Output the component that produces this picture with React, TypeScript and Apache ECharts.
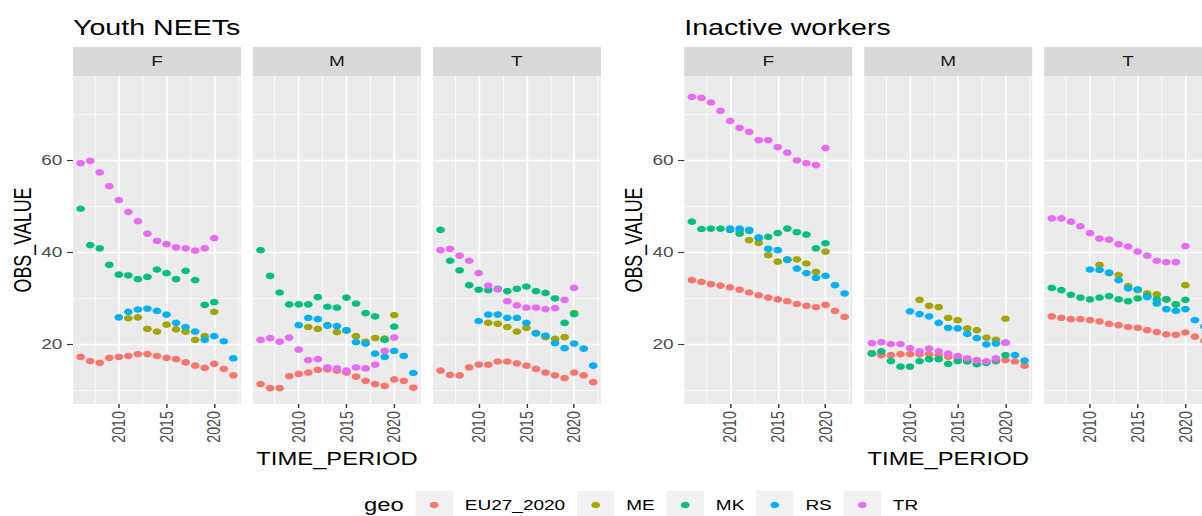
import React, { useEffect, useRef } from 'react';
import * as echarts from 'echarts';

// ---------- data ----------
const years = [2006, 2007, 2008, 2009, 2010, 2011, 2012, 2013, 2014, 2015, 2016, 2017, 2018, 2019, 2020, 2021, 2022];
const geos = ['EU27_2020', 'ME', 'MK', 'RS', 'TR'];
const geoColors = ['#F8766D', '#A3A500', '#00BF7D', '#00B0F6', '#E76BF3'];
const facets = ['F', 'M', 'T'];
const plotTitles = ['Youth NEETs', 'Inactive workers'];
const xMajorTicks = [2010, 2015, 2020];
const xMinorTicks = [2007.5, 2012.5, 2017.5, 2022.5];
const yMajorTicks = [20, 40, 60];
const yMinorTicks = [10, 30, 50, 70];

// Youth NEETs
const neetF_EU = [17.2, 16.3, 15.9, 17.0, 17.2, 17.4, 17.8, 17.8, 17.4, 17.0, 16.7, 16.0, 15.3, 14.8, 15.7, 14.6, 13.2];
const neetF_ME = [null, null, null, null, null, 25.6, 25.8, 23.3, 22.7, 24.2, 23.2, 22.7, 20.9, 21.7, 27.0, null, null];
const neetF_MK = [49.4, 41.5, 40.8, 37.2, 35.1, 34.9, 34.1, 34.6, 36.2, 35.4, 34.1, 35.9, 33.9, 28.5, 29.1, null, null];
const neetF_RS = [null, null, null, null, 25.8, 27.0, 27.5, 27.7, 27.2, 26.4, 24.6, 23.7, 22.7, 20.9, 21.7, 20.6, 16.9];
const neetF_TR = [59.3, 59.8, 57.3, 54.3, 51.3, 48.7, 46.7, 44.0, 42.4, 41.7, 41.0, 40.8, 40.3, 40.8, 43.0, null, null];

const neetM_EU = [11.3, 10.4, 10.4, 13.0, 13.5, 13.8, 14.4, 14.5, 14.2, 13.8, 12.9, 12.0, 11.3, 10.9, 12.3, 12.0, 10.5];
const neetM_ME = [null, null, null, null, null, 23.7, 23.3, 24.1, 22.6, 22.9, 21.7, 20.5, 21.3, 21.2, 26.3, null, null];
const neetM_MK = [40.4, 34.8, 31.2, 28.6, 28.6, 28.6, 30.2, 28.1, 27.9, 30.1, 28.8, 26.7, 26.0, 20.9, 23.8, null, null];
const neetM_RS = [null, null, null, null, 24.1, 25.7, 25.4, 24.0, 23.9, 23.0, 20.4, 20.1, 17.9, 17.2, 18.5, 17.4, 13.7];
const neetM_TR = [20.9, 21.3, 20.5, 21.4, 18.8, 16.5, 16.7, 14.9, 14.7, 14.2, 14.9, 14.7, 15.5, 18.5, 21.4, null, null];

const neetT_EU = [14.2, 13.3, 13.2, 14.9, 15.5, 15.5, 16.2, 16.2, 15.8, 15.3, 14.6, 13.8, 13.2, 12.6, 13.8, 13.2, 11.7];
const neetT_ME = [null, null, null, null, null, 24.6, 24.4, 23.7, 22.7, 23.5, 22.4, 21.5, 21.1, 21.5, 26.7, null, null];
const neetT_MK = [44.8, 38.1, 36.0, 32.8, 31.8, 31.7, 32.0, 31.5, 32.0, 32.5, 31.5, 31.1, 29.9, 24.6, 26.5, null, null];
const neetT_RS = [null, null, null, null, 25.0, 26.4, 26.4, 25.7, 25.7, 24.6, 22.3, 21.8, 20.2, 19.1, 20.1, 19.0, 15.3];
const neetT_TR = [40.4, 40.7, 39.2, 38.1, 35.4, 32.7, 31.9, 29.3, 28.4, 27.9, 27.9, 27.6, 27.8, 29.6, 32.2, null, null];

// Inactive workers
const inactF_EU = [33.9, 33.5, 33.0, 32.7, 32.3, 31.8, 31.2, 30.6, 30.1, 29.7, 29.3, 28.7, 28.3, 28.0, 28.5, 27.2, 25.9];
const inactF_ME = [null, null, null, null, null, 44.6, 42.6, 42.0, 39.3, 37.9, 38.4, 38.4, 37.5, 35.7, 40.1, null, null];
const inactF_MK = [46.6, 45.0, 45.1, 45.1, 44.8, 44.0, 44.6, 43.0, 43.3, 44.1, 45.1, 44.3, 43.8, 40.8, 41.9, null, null];
const inactF_RS = [null, null, null, null, 45.1, 45.1, 44.8, 43.2, 40.7, 40.4, 38.3, 36.4, 35.4, 34.4, 34.8, 32.8, 31.0];
const inactF_TR = [73.7, 73.5, 72.5, 70.7, 68.5, 67.0, 66.1, 64.3, 64.3, 62.8, 61.6, 59.9, 59.3, 58.9, 62.6, null, null];

const inactM_EU = [18.0, 17.6, 17.6, 17.8, 17.8, 17.8, 17.8, 17.6, 17.2, 16.9, 16.7, 16.5, 16.2, 16.2, 16.5, 16.2, 15.3];
const inactM_ME = [null, null, null, null, null, 29.6, 28.3, 28.0, 25.7, 25.2, 23.4, 23.0, 21.4, 20.9, 25.5, null, null];
const inactM_MK = [17.9, 18.4, 16.3, 15.1, 15.1, 16.3, 16.7, 16.7, 15.7, 16.3, 16.2, 15.6, 15.9, 16.5, 17.6, null, null];
const inactM_RS = [null, null, null, null, 27.1, 26.5, 26.0, 24.6, 23.5, 23.4, 22.2, 21.3, 19.9, 20.1, 20.3, 17.6, 16.4];
const inactM_TR = [20.2, 20.4, 20.0, 20.0, 19.1, 18.4, 19.0, 18.4, 17.9, 17.4, 16.9, 16.4, 16.2, 16.9, 20.3, null, null];

const inactT_EU = [26.0, 25.7, 25.4, 25.4, 25.2, 24.9, 24.4, 24.1, 23.7, 23.5, 23.0, 22.6, 22.1, 22.0, 22.5, 21.6, 20.7];
const inactT_ME = [null, null, null, null, null, 37.2, 35.4, 35.0, 32.6, 31.7, 31.0, 30.8, 29.7, 28.6, 32.8, null, null];
const inactT_MK = [32.2, 31.7, 30.7, 30.1, 29.7, 30.1, 30.4, 29.7, 29.3, 29.9, 30.4, 29.7, 29.7, 28.6, 29.6, null, null];
const inactT_RS = [null, null, null, null, 36.2, 36.1, 35.5, 33.9, 32.1, 31.9, 30.2, 28.8, 27.6, 27.2, 27.6, 25.2, 23.8];
const inactT_TR = [47.3, 47.3, 46.6, 45.6, 44.1, 42.9, 42.7, 41.7, 41.2, 40.1, 39.2, 38.1, 37.8, 37.8, 41.3, null, null];

const panelSeries = [
  [neetF_EU, neetF_ME, neetF_MK, neetF_RS, neetF_TR],
  [neetM_EU, neetM_ME, neetM_MK, neetM_RS, neetM_TR],
  [neetT_EU, neetT_ME, neetT_MK, neetT_RS, neetT_TR],
  [inactF_EU, inactF_ME, inactF_MK, inactF_RS, inactF_TR],
  [inactM_EU, inactM_ME, inactM_MK, inactM_RS, inactM_TR],
  [inactT_EU, inactT_ME, inactT_MK, inactT_RS, inactT_TR],
];

// ---------- layout (unscaled units; the whole figure is stretched horizontally) ----------
const STRETCH = 1.33;
const FONT = '"Liberation Sans", Arial, sans-serif';
const plotLefts = [54.9, 514.5];
const PANEL_W = 126.3;
const PANEL_GAP = 9.0;
const PANEL_TOP = 76;
const PANEL_H = 328;
const STRIP_TOP = 47;
const X_MIN = 2005.2;
const X_MAX = 2022.8;
const Y_MIN = 6.96;
const Y_MAX = 78.26;
const SMALL = 14.3;
const MEDIUM = 17.9;
const LARGE = 21.5;

function measure(text: string, size: number): number {
  const c = document.createElement('canvas').getContext('2d');
  if (!c) return text.length * size * 0.55;
  c.font = `${size}px "Liberation Sans", Arial, sans-serif`;
  return c.measureText(text).width;
}

function buildOption() {
  const grids: any[] = [];
  const xAxes: any[] = [];
  const yAxes: any[] = [];
  const series: any[] = [];
  const graphics: any[] = [];

  for (let p = 0; p < 6; p++) {
    const plot = Math.floor(p / 3);
    const f = p % 3;
    const left = plotLefts[plot] + f * (PANEL_W + PANEL_GAP);
    grids.push({
      left, top: PANEL_TOP, width: PANEL_W, height: PANEL_H,
      show: true, backgroundColor: '#EBEBEB', borderWidth: 0,
      containLabel: false, outerBoundsMode: 'none',
    });
    xAxes.push({
      gridIndex: p, type: 'value', min: X_MIN, max: X_MAX,
      axisLine: { show: false },
      axisTick: { show: true, length: 4, lineStyle: { color: '#333333', width: 1.1 }, customValues: xMajorTicks },
      axisLabel: { show: true, customValues: xMajorTicks, rotate: 90, margin: 7, color: '#4D4D4D', fontSize: SMALL, fontFamily: FONT, formatter: (v: number) => String(Math.round(v)) },
      splitLine: { show: true, lineStyle: { color: '#FFFFFF', width: 1.3 } },
    });
    xAxes.push({
      gridIndex: p, type: 'value', min: X_MIN, max: X_MAX,
      axisLine: { show: false },
      axisTick: { show: false, customValues: xMinorTicks },
      axisLabel: { show: false, customValues: xMinorTicks },
      splitLine: { show: true, lineStyle: { color: '#FFFFFF', width: 0.65 } },
    });
    const showY = f === 0;
    yAxes.push({
      gridIndex: p, type: 'value', min: Y_MIN, max: Y_MAX,
      axisLine: { show: false },
      axisTick: { show: showY, length: 4.6, lineStyle: { color: '#333333', width: 1.1 }, customValues: yMajorTicks },
      axisLabel: { show: showY, customValues: yMajorTicks, margin: 8, color: '#4D4D4D', fontSize: SMALL, fontFamily: FONT },
      splitLine: { show: true, lineStyle: { color: '#FFFFFF', width: 1.3 } },
    });
    yAxes.push({
      gridIndex: p, type: 'value', min: Y_MIN, max: Y_MAX,
      axisLine: { show: false },
      axisTick: { show: false, customValues: yMinorTicks },
      axisLabel: { show: false, customValues: yMinorTicks },
      splitLine: { show: true, lineStyle: { color: '#FFFFFF', width: 0.65 } },
    });

    panelSeries[p].forEach((vals, g) => {
      series.push({
        type: 'scatter', name: geos[g],
        xAxisIndex: p * 2, yAxisIndex: p * 2,
        symbol: 'circle', symbolSize: 6.6,
        itemStyle: { color: geoColors[g], opacity: 1 },
        emphasis: { disabled: true },
        data: years.map((y, i) => [y, vals[i]]).filter((d) => d[1] !== null),
        z: 3 + g,
      });
    });

    graphics.push({
      type: 'rect', silent: true,
      shape: { x: left, y: STRIP_TOP, width: PANEL_W, height: PANEL_TOP - STRIP_TOP },
      style: { fill: '#D9D9D9' },
    });
    graphics.push({
      type: 'text', silent: true, x: left + PANEL_W / 2, y: (STRIP_TOP + PANEL_TOP) / 2,
      style: { text: facets[f], fill: '#1A1A1A', font: `${SMALL}px ${FONT}`, textAlign: 'center', textVerticalAlign: 'middle' },
    });
  }

  for (let plot = 0; plot < 2; plot++) {
    const left = plotLefts[plot];
    const right = left + 3 * PANEL_W + 2 * PANEL_GAP;
    graphics.push({
      type: 'text', silent: true, x: left, y: 27,
      style: { text: plotTitles[plot], fill: '#000000', font: `${LARGE}px ${FONT}`, textAlign: 'left', textVerticalAlign: 'middle' },
    });
    graphics.push({
      type: 'text', silent: true, x: (left + right) / 2, y: 459,
      style: { text: 'TIME_PERIOD', fill: '#000000', font: `${MEDIUM}px ${FONT}`, textAlign: 'center', textVerticalAlign: 'middle' },
    });
    graphics.push({
      type: 'text', silent: true, x: left - 38, y: PANEL_TOP + PANEL_H / 2, rotation: Math.PI / 2,
      style: { text: 'OBS_VALUE', fill: '#000000', font: `${MEDIUM}px ${FONT}`, textAlign: 'center', textVerticalAlign: 'middle' },
    });
  }

  // legend (ggplot-style keys)
  const gap = 8.9;
  const keySize = 28.1;
  const legendY = 505;
  let lx = 273.7;
  graphics.push({
    type: 'text', silent: true, x: lx, y: legendY,
    style: { text: 'geo', fill: '#000000', font: `${MEDIUM}px ${FONT}`, textAlign: 'left', textVerticalAlign: 'middle' },
  });
  lx += measure('geo', MEDIUM) + gap;
  geos.forEach((g, i) => {
    graphics.push({
      type: 'rect', silent: true,
      shape: { x: lx, y: legendY - keySize / 2, width: keySize, height: keySize },
      style: { fill: '#F2F2F2' },
    });
    graphics.push({
      type: 'circle', silent: true,
      shape: { cx: lx + keySize / 2, cy: legendY, r: 3.3 },
      style: { fill: geoColors[i] },
    });
    lx += keySize + gap;
    graphics.push({
      type: 'text', silent: true, x: lx, y: legendY,
      style: { text: g, fill: '#000000', font: `${SMALL}px ${FONT}`, textAlign: 'left', textVerticalAlign: 'middle' },
    });
    lx += measure(g, SMALL) + gap;
  });

  return {
    animation: false,
    backgroundColor: '#FFFFFF',
    textStyle: { fontFamily: FONT },
    grid: grids,
    xAxis: xAxes,
    yAxis: yAxes,
    series,
    graphic: graphics,
  };
}

export default function App() {
  const ref = useRef<HTMLDivElement>(null);
  useEffect(() => {
    if (!ref.current) return;
    const chart = echarts.init(ref.current, null, { renderer: 'svg' });
    chart.setOption(buildOption() as any);
    return () => chart.dispose();
  }, []);
  return (
    <div style={{ position: 'fixed', left: 0, top: 0, width: 1202, height: 516, overflow: 'hidden', background: '#FFFFFF' }}>
      <div
        ref={ref}
        style={{ width: 920, height: 516, transform: `scaleX(${STRETCH})`, transformOrigin: '0 0' }}
      />
    </div>
  );
}
